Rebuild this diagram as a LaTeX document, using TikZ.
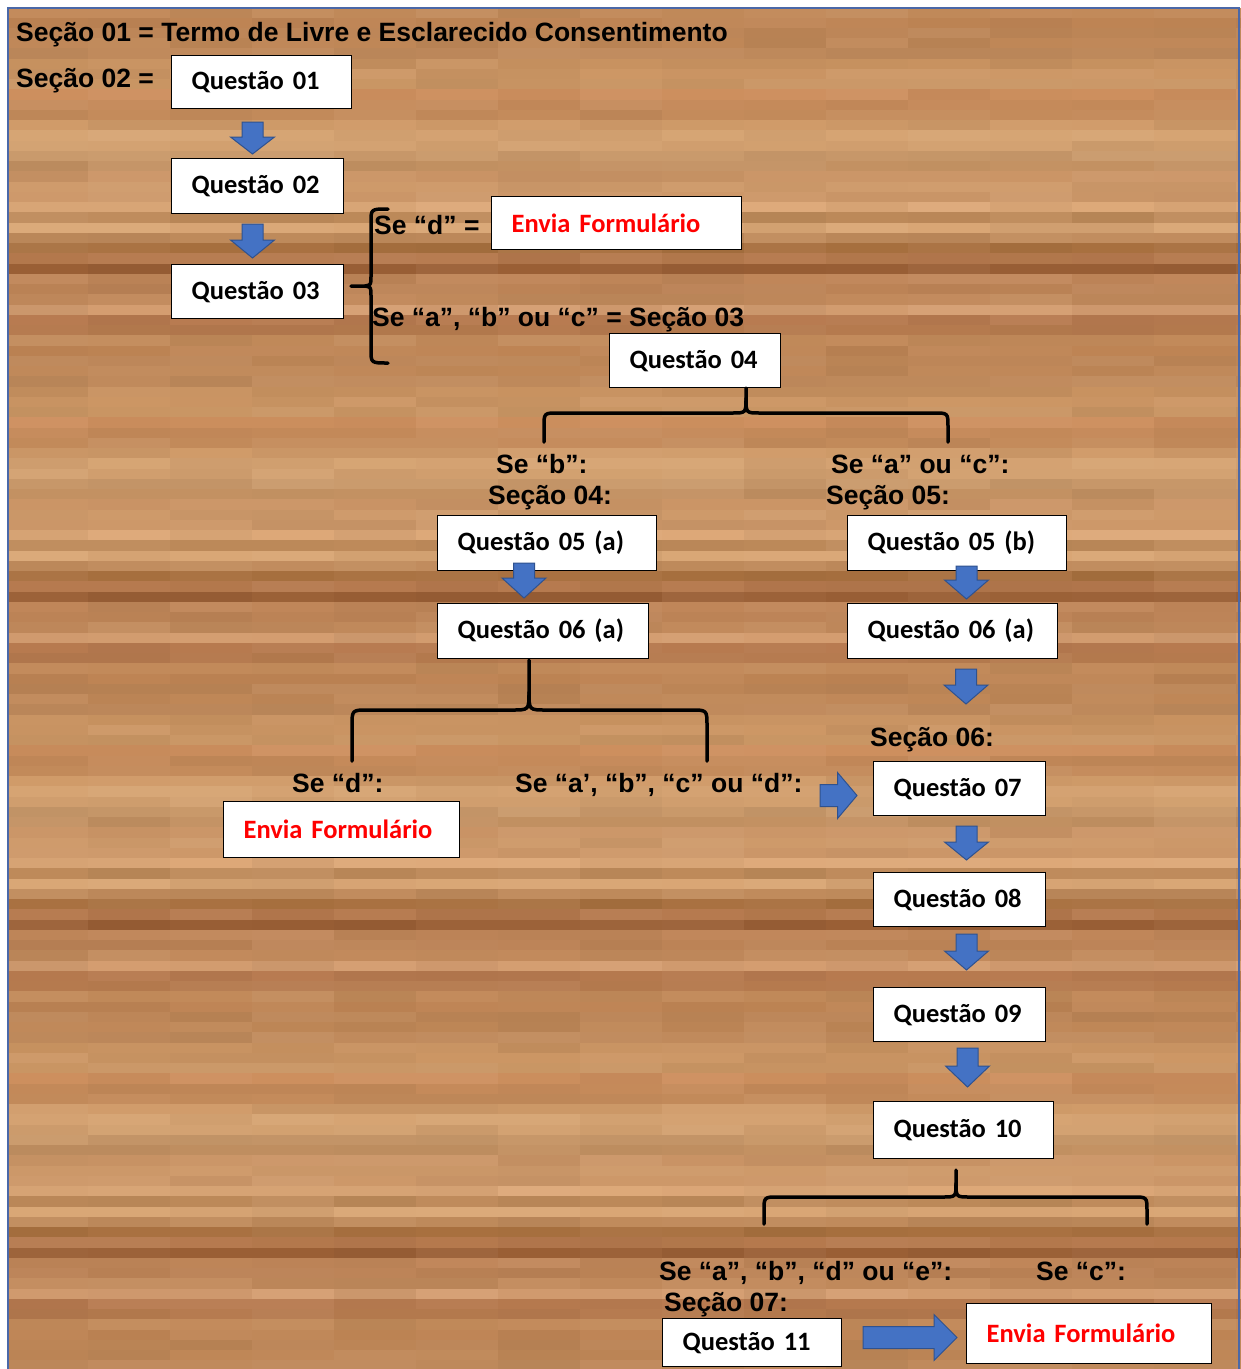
\documentclass[tikz,border=0pt]{standalone}
\usepackage{fontspec}
\newfontfamily\labfont{Liberation Sans}
\newfontfamily\calfont[WordSpace=0.8]{Carlito}
\definecolor{arrowblue}{HTML}{4472C4}
\definecolor{arrowedge}{HTML}{2F528F}
\definecolor{frameblue}{HTML}{4A68A8}
\definecolor{formred}{HTML}{FF0000}
\newcommand\blkdown[4]{\filldraw[blkarrow] (#1-10.5,#2) -- (#1+10.5,#2) -- (#1+10.5,#3) -- (#1+22,#3) -- (#1,#4) -- (#1-22,#3) -- (#1-10.5,#3) -- cycle;}
\newcommand\blkright[4]{\filldraw[blkarrow] (#1,#4-11) -- (#2,#4-11) -- (#2,#4-23) -- (#3,#4) -- (#2,#4+23) -- (#2,#4+11) -- (#1,#4+11) -- cycle;}
\tikzset{
  lbl/.style={anchor=base west, inner sep=0pt, font=\labfont\bfseries\fontsize{26.5}{30}\selectfont},
  qbox/.style={draw=black, line width=1.3pt, fill=white, anchor=north west, inner xsep=20pt, inner ysep=0pt, align=left, font=\calfont\bfseries\fontsize{26.5}{30}\selectfont},
  blkarrow/.style={fill=arrowblue, draw=arrowedge, line width=1pt, line join=miter},
  brace/.style={draw=black, line width=3.5pt, line cap=round, line join=round},
}
\begin{document}
\begin{tikzpicture}[x=1pt,y=-1pt]
\useasboundingbox (0,0) rectangle (1241,1369);
\fill[white] (0,0) rectangle (1241,1369);
% wood background
\pgfmathsetseed{12}
\begin{scope}
\clip (8,8) rectangle (1241,1369);
\foreach \k in {0,...,4}{
 \foreach \j/\col in {0/DDA878,1/BE8A5A,2/D9A675,3/C08B5C,4/A8703F,5/B5794D,6/9A5F35,7/C08659,8/BC8356,9/C28A5C,10/D49D70,11/B77A4F,12/B57A4E,13/C28A5A,14/BE8454,15/BC8556,16/BF8757,17/C08A5C,18/C89260,19/CC9664,20/C99563,21/CD8F5E,22/C58A5A,23/C48B5B,24/D09B69,25/D6A473,26/D2A06F,27/C9996A,28/C39162,29/CB9566,30/CE9A6A,31/CD9869}{
  \definecolor{cur}{HTML}{\col}
  \pgfmathsetmacro\yy{-126+328*\k+10.25*\j}
  \foreach \c in {0,...,16}{
    \pgfmathrandominteger{\r}{-4}{4}
    \ifnum\r<0
      \pgfmathtruncatemacro\p{100+\r}
      \fill[cur!\p!black] (-76+82*\c,\yy) rectangle ++(82.6,10.6);
    \else
      \pgfmathtruncatemacro\p{100-\r}
      \fill[cur!\p!white] (-76+82*\c,\yy) rectangle ++(82.6,10.6);
    \fi
  }
 }
}
\end{scope}
\draw[frameblue, line width=2pt] (8,1375) -- (8,8) -- (1239,8) -- (1239,1375);

% labels
\node[lbl] (s1) at (16,41.5) {Seção 01 = Termo de Livre e Esclarecido Consentimento};
\node[lbl] (s2) at (16,87.5) {Seção 02 =};
\node[lbl] (ld) at (374,234.5) {Se “d” =};
\node[lbl] (labc) at (372,326.5) {Se “a”, “b” ou “c” = Seção 03};
\node[lbl] (lb) at (496,473.5) {Se “b”:};
\node[lbl] (s4) at (488,504.5) {Seção 04:};
\node[lbl] (lac) at (831,473.5) {Se “a” ou “c”:};
\node[lbl] (s5) at (826,504.5) {Seção 05:};
\node[lbl] (s6) at (870,746.5) {Seção 06:};
\node[lbl] (ld2) at (292,792.5) {Se “d”:};
\node[lbl] (labcd) at (515,792.5) {Se “a’, “b”, “c” ou “d”:};
\node[lbl] (labde) at (659,1280.5) {Se “a”, “b”, “d” ou “e”:};
\node[lbl] (lc) at (1036,1280.5) {Se “c”:};
\node[lbl] (s7) at (664,1311.5) {Seção 07:};

% boxes
\node[qbox, text width=140pt, minimum height=53pt] (q1) at (171,55) {Questão 01};
\node[qbox, text width=132pt, minimum height=55pt] (q2) at (171,158) {Questão 02};
\node[qbox, text width=132pt, minimum height=54pt] (q3) at (171,264) {Questão 03};
\node[qbox, text width=210pt, minimum height=53pt, text=formred] (e1) at (491,196) {Envia Formulário};
\node[qbox, text width=131pt, minimum height=54pt] (q4) at (609,333) {Questão 04};
\node[qbox, text width=179pt, minimum height=55pt] (q5a) at (437,515) {Questão 05 (a)};
\node[qbox, text width=171pt, minimum height=55pt] (q6a) at (437,603) {Questão 06 (a)};
\node[qbox, text width=179pt, minimum height=55pt] (q5b) at (847,515) {Questão 05 (b)};
\node[qbox, text width=170pt, minimum height=55pt] (q6b) at (847,603) {Questão 06 (a)};
\node[qbox, text width=196pt, minimum height=56pt, text=formred] (e2) at (223,801) {Envia Formulário};
\node[qbox, text width=132pt, minimum height=54pt] (q7) at (873,761) {Questão 07};
\node[qbox, text width=132pt, minimum height=54pt] (q8) at (873,872) {Questão 08};
\node[qbox, text width=132pt, minimum height=54pt] (q9) at (873,987) {Questão 09};
\node[qbox, text width=140pt, minimum height=57pt] (q10) at (873,1101) {Questão 10};
\node[qbox, text width=139pt, minimum height=48pt] (q11) at (662,1318) {Questão 11};
\node[qbox, text width=205pt, minimum height=60pt, text=formred] (e3) at (966,1303) {Envia Formulário};

% block arrows
\blkdown{252.5}{122}{137}{154}
\blkdown{252.5}{224}{240}{258}
\blkdown{524}{563}{578}{598}
\blkdown{966.5}{566}{580}{599}
\blkdown{966}{669}{685}{704}
\blkdown{966.5}{826}{842}{860}
\blkdown{966.5}{934}{951}{970}
\blkdown{967.5}{1048}{1066}{1087}
\blkright{820}{837.5}{857}{795.5}
\blkright{863}{934}{957}{1337.5}

% braces
\draw[brace] (388,209) .. controls (371,209) .. (371,222) -- (371,276) .. controls (371,285) .. (365,286) -- (351,286);
\draw[brace] (365,286) .. controls (371,287) .. (371,296) -- (371,350) .. controls (371,363) .. (388,363);

\draw[brace] (746,388) -- (746,398) .. controls (746,413) .. (732,413) -- (558,413) .. controls (544,413) .. (544,427) -- (544,442);
\draw[brace] (746,398) .. controls (746,413) .. (760,413) -- (934,413) .. controls (948,413) .. (948,427) -- (948,442);

\draw[brace] (529,660) -- (529,692) .. controls (529,710) .. (512,710) -- (368,710) .. controls (352,710) .. (352,726) -- (352,761);
\draw[brace] (529,692) .. controls (529,710) .. (546,710) -- (691,710) .. controls (707,710) .. (707,726) -- (707,761);

\draw[brace] (956,1170) -- (956,1183) .. controls (956,1197) .. (942,1197) -- (778,1197) .. controls (764,1197) .. (764,1211) -- (764,1224);
\draw[brace] (956,1183) .. controls (956,1197) .. (970,1197) -- (1133,1197) .. controls (1147,1197) .. (1147,1211) -- (1147,1224);
\end{tikzpicture}
\end{document}
